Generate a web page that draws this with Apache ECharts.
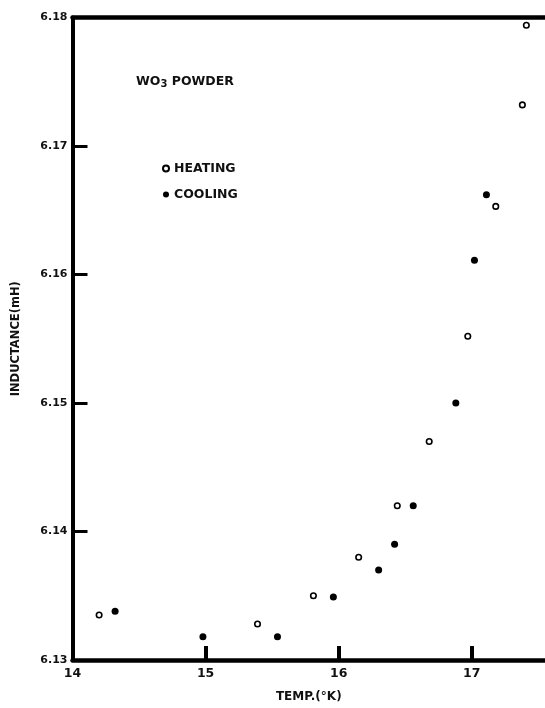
<!DOCTYPE html>
<html>
<head>
<meta charset="utf-8">
<script src="https://cdn.jsdelivr.net/npm/echarts@6/dist/echarts.min.js"></script>
<style>
html,body{margin:0;padding:0;background:#fff;}
#c{width:545px;height:708px;}
</style>
</head>
<body>
<div id="c"></div>
<script>
// Heating (open circles): [temperature K, inductance mH]
const heatingTemp = [14.20, 15.39, 15.81, 16.15, 16.44, 16.68, 16.97, 17.18, 17.38, 17.41];
const heatingInd  = [6.1335, 6.1328, 6.1350, 6.1380, 6.1420, 6.1470, 6.1552, 6.1653, 6.1732, 6.1794];
// Cooling (filled circles)
const coolingTemp = [14.32, 14.98, 15.54, 15.96, 16.30, 16.42, 16.56, 16.88, 17.02, 17.11];
const coolingInd  = [6.1338, 6.1318, 6.1318, 6.1349, 6.1370, 6.1390, 6.1420, 6.1500, 6.1611, 6.1662];

const xTickLabels = [14, 15, 16, 17];
const yTickLabels = [6.13, 6.14, 6.15, 6.16, 6.17, 6.18];

const heating = heatingTemp.map((t, i) => [t, heatingInd[i]]);
const cooling = coolingTemp.map((t, i) => [t, coolingInd[i]]);

const FONT = '"DejaVu Sans", sans-serif';
const chart = echarts.init(document.getElementById('c'), null, {renderer: 'canvas'});
chart.setOption({
  animation: false,
  backgroundColor: '#fff',
  grid: {left: 72.5, right: 0, top: 17.5, bottom: 39.5, containLabel: false},
  legend: {
    orient: 'vertical',
    left: 157, top: 157,
    itemWidth: 6, itemHeight: 6, itemGap: 13,
    textStyle: {fontFamily: FONT, fontWeight: 'bold', fontSize: 12.5, color: '#111', padding: [0,0,0,0]},
    data: ['HEATING', 'COOLING']
  },
  xAxis: [{
    type: 'value', min: 14, max: 17.55, interval: 1,
    name: 'TEMP.(°K)', nameLocation: 'middle', nameGap: 31,
    nameTextStyle: {fontFamily: FONT, fontWeight: 'bold', fontSize: 12, color: '#111'},
    axisLine: {show: true, onZero: false, lineStyle: {color: '#000', width: 4.5}},
    axisTick: {show: true, inside: true, length: 14, customValues: [15, 16, 17], lineStyle: {color: '#000', width: 4}},
    axisLabel: {customValues: xTickLabels, margin: 7, fontFamily: FONT, fontWeight: 'bold', fontSize: 12.5, color: '#111',
      formatter: v => String(v)},
    splitLine: {show: false}
  }, {
    type: 'value', position: 'top', min: 14, max: 17.55,
    axisLine: {show: true, onZero: false, lineStyle: {color: '#000', width: 4.5}},
    axisTick: {show: false}, axisLabel: {show: false}, splitLine: {show: false}
  }],
  yAxis: [{
    type: 'value', min: 6.13, max: 6.18, interval: 0.01,
    name: 'INDUCTANCE(mH)', nameLocation: 'middle', nameGap: 50, nameRotate: 90,
    nameTextStyle: {fontFamily: FONT, fontWeight: 'bold', fontSize: 11.5, color: '#111'},
    axisLine: {show: true, onZero: false, lineStyle: {color: '#000', width: 4}},
    axisTick: {show: true, inside: true, length: 15, customValues: [6.14, 6.15, 6.16, 6.17], lineStyle: {color: '#000', width: 3}},
    axisLabel: {customValues: yTickLabels, margin: 5, fontFamily: FONT, fontWeight: 'bold', fontSize: 11, color: '#111',
      formatter: v => v.toFixed(2)},
    splitLine: {show: false}
  }],
  graphic: [{
    type: 'text', left: 136, top: 75,
    style: {
      text: 'WO{sub|3} POWDER',
      font: 'bold 12.5px "DejaVu Sans", sans-serif',
      fill: '#111',
      rich: {sub: {font: 'bold 10px "DejaVu Sans", sans-serif', fill: '#111', padding: [6, 0, 0, 0]}}
    }
  }],
  series: [{
    name: 'HEATING', type: 'scatter', xAxisIndex: 0, yAxisIndex: 0,
    data: heating, symbol: 'circle', symbolSize: 5.5,
    itemStyle: {color: '#fff', borderColor: '#000', borderWidth: 1.6, opacity: 1}
  }, {
    name: 'COOLING', type: 'scatter', xAxisIndex: 0, yAxisIndex: 0,
    data: cooling, symbol: 'circle', symbolSize: 7,
    itemStyle: {color: '#000', borderColor: '#000', borderWidth: 0, opacity: 1}
  }]
});
</script>
</body>
</html>
